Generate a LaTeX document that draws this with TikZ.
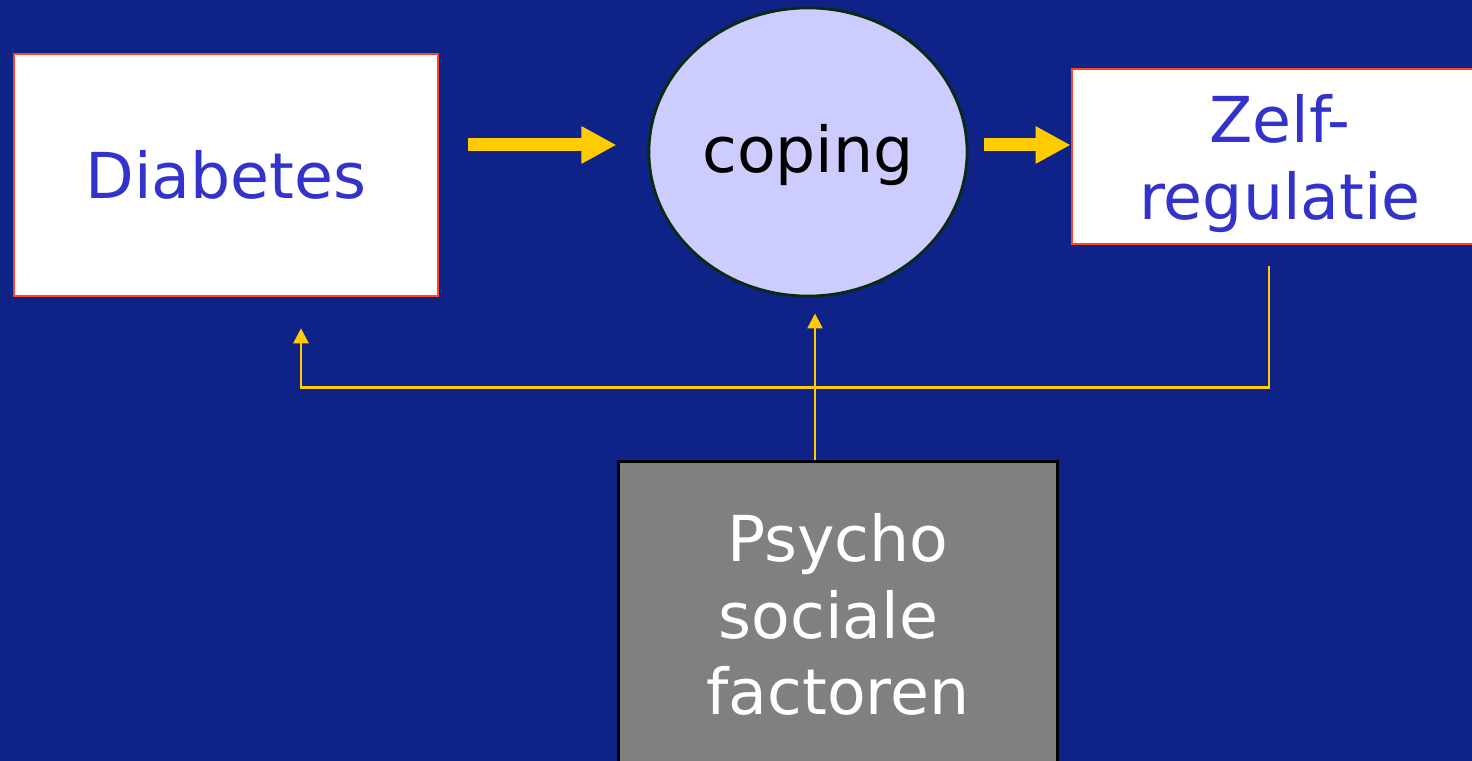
\documentclass[tikz,border=0pt]{standalone}
\usepackage{fontspec}
\setmainfont{DejaVu Sans}
\usetikzlibrary{arrows.meta}
\usetikzlibrary{calc}
\usetikzlibrary{shapes.geometric}
\tikzset{>=latex}

\definecolor{slidebg}{HTML}{0E2288}
\definecolor{txtblue}{HTML}{3333CC}
\definecolor{boxred}{HTML}{FF4422}
\definecolor{arrowyellow}{HTML}{FFCC00}
\definecolor{copingfill}{HTML}{CCCCFF}
\definecolor{copingline}{HTML}{0B2A12}
\definecolor{psygray}{HTML}{808080}

\tikzset{
  slidefont/.style={font=\fontsize{18pt}{21.8pt}\selectfont},
  whitebox/.style={draw=boxred, line width=0.7pt, fill=white, text=txtblue,
    align=center, inner sep=0pt, slidefont},
  copingnode/.style={ellipse, draw=copingline, line width=0.8pt, fill=copingfill,
    text=black, inner sep=0pt, slidefont},
  graybox/.style={draw=black, line width=0.8pt, fill=psygray, text=white,
    align=center, inner sep=0pt, slidefont},
  bigarrow/.style={-{Triangle[length=0.35cm,width=0.35cm]}, line width=0.13cm, arrowyellow},
  thinarrow/.style={-{Triangle[length=0.15cm,width=0.15cm]}, line width=0.7pt, arrowyellow}
}

\begin{document}
\begin{tikzpicture}[x=0.01cm,y=-0.01cm]
    % Fix the page and paint the slide background
    \useasboundingbox (0,0) rectangle (1472,761);
    \clip (0,0) rectangle (1472,761);
    \fill[slidebg] (0,0) rectangle (1472,761);

    % Define the boxes and the ellipse
    \node[whitebox, minimum width=4.24cm, minimum height=2.42cm] (diab) at (226,175) {Diabetes};
    \node[copingnode, minimum width=3.18cm, minimum height=2.88cm, text height=16pt, text depth=4.3pt] (coping) at (808,152) {coping};
    \node[whitebox, minimum width=4.16cm, minimum height=1.75cm] (zelf) at (1280,156.5) {\rule{0pt}{17.5pt}Zelf-\\regulatie};
    \node[graybox, minimum width=4.38cm, minimum height=3.18cm] (psy) at (838,621) {Psycho\\sociale\kern0.3em\\factoren\rule[-4pt]{0pt}{4pt}};

    % Draw the main arrows
    \draw[bigarrow, shorten <=0.29cm, shorten >=0.31cm] ($(diab.east |- coping.west)+(0,-7)$) -- ($(coping.west)+(0,-7)$);
    \draw[bigarrow, shorten <=0.15cm] ($(coping.east)+(0,-7)$) -- ($(zelf.west |- coping.east)+(0,-7)$);

    % Draw the feedback lines
    \coordinate (fbstart) at ($(zelf.south)+(-11,21)$);
    \coordinate (fbend) at ($(diab.south)+(75,31)$);
    \draw[thinarrow] (fbstart) |- ($(diab.south)+(75,90)$) -- (fbend);
    \draw[thinarrow] ($(psy.north)+(-23,0)$) -- ($(coping.south)+(7,16)$);

\end{tikzpicture}
\end{document}
